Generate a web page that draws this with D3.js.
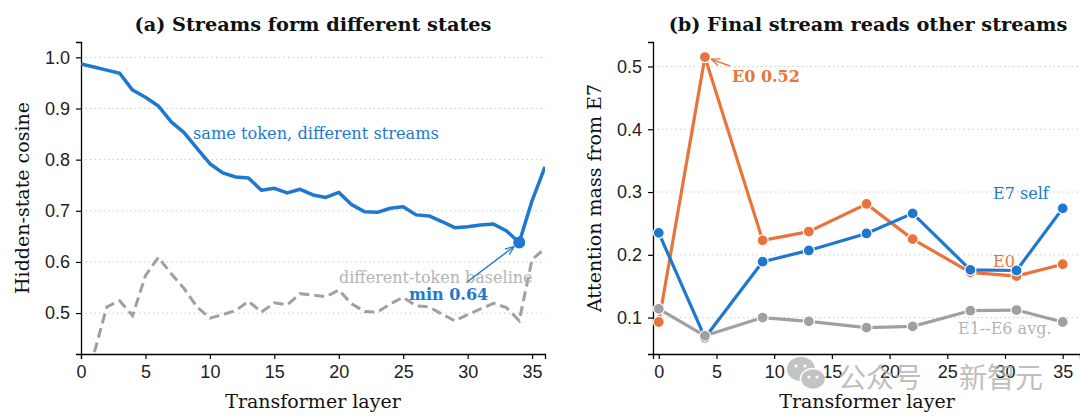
<!DOCTYPE html>
<html>
<head>
<meta charset="utf-8">
<script src="https://cdn.jsdelivr.net/npm/d3@7"></script>
<style>
  body { margin: 0; background: #fff; }
  svg { font-family: "DejaVu Serif", serif; }
  .tick text { font-size: 18px; fill: #222; }
  .grid line { stroke: #ccc; stroke-dasharray: 1.5 3; stroke-width: 1; }
</style>
</head>
<body>
<div id="chart"></div>
<script>
// panel (a): cosine per layer
const layersA = d3.range(0, 37);
const sameToken = [0.987, 0.981, 0.975, 0.969, 0.936, 0.922, 0.905, 0.874, 0.853, 0.822,
  0.792, 0.774, 0.766, 0.764, 0.740, 0.744, 0.735, 0.742, 0.731, 0.726,
  0.736, 0.712, 0.698, 0.697, 0.705, 0.708, 0.692, 0.690, 0.679, 0.667,
  0.669, 0.672, 0.674, 0.661, 0.638, 0.720, 0.786];
const diffToken = [0.22, 0.42, 0.512, 0.524, 0.495, 0.573, 0.609, 0.577, 0.548, 0.512,
  0.490, 0.497, 0.505, 0.523, 0.502, 0.520, 0.516, 0.538, 0.535, 0.532,
  0.545, 0.518, 0.503, 0.502, 0.518, 0.531, 0.514, 0.512, 0.498, 0.485,
  0.497, 0.508, 0.519, 0.511, 0.485, 0.605, 0.626];
const ticksA_x = [0, 5, 10, 15, 20, 25, 30, 35];
const ticksA_y = [0.5, 0.6, 0.7, 0.8, 0.9, 1.0];

// panel (b): attention mass from E7
const layersB = [0, 4, 9, 13, 18, 22, 27, 31, 35];
const e0 = [0.093, 0.515, 0.223, 0.237, 0.281, 0.225, 0.172, 0.166, 0.185];
const e7self = [0.235, 0.068, 0.189, 0.207, 0.234, 0.266, 0.176, 0.175, 0.274];
const e1e6 = [0.114, 0.071, 0.100, 0.094, 0.084, 0.086, 0.111, 0.112, 0.093];
const ticksB_x = [0, 5, 10, 15, 20, 25, 30, 35];
const ticksB_y = [0.1, 0.2, 0.3, 0.4, 0.5];

const blue = "#1f77d0", orange = "#e8743b", gray = "#a0a0a0";

const W = 1080, H = 420;
const svg = d3.select("#chart").append("svg")
    .attr("width", W).attr("height", H);

const defs = svg.append("defs");
function arrowMarker(id, color) {
    defs.append("marker")
        .attr("id", id)
        .attr("viewBox", "0 0 10 10")
        .attr("refX", 10).attr("refY", 5)
        .attr("markerWidth", 9).attr("markerHeight", 9)
        .attr("markerUnits", "userSpaceOnUse")
        .attr("orient", "auto")
        .append("path")
        .attr("d", "M0,1 L10,5 L0,9")
        .attr("fill", "none")
        .attr("stroke", color)
        .attr("stroke-width", 1.4);
}
arrowMarker("arrBlue", blue);
arrowMarker("arrOrange", orange);

function panel(box, xDom, yDom, xTicks, yTicks, clipId) {
    const x = d3.scaleLinear().domain(xDom).range([box.left, box.right]);
    const y = d3.scaleLinear().domain(yDom).range([box.bottom, box.top]);

    defs.append("clipPath").attr("id", clipId)
        .append("rect")
        .attr("x", box.left).attr("y", box.top)
        .attr("width", box.right - box.left)
        .attr("height", box.bottom - box.top);

    // dotted horizontal grid
    svg.append("g")
        .attr("class", "grid")
        .selectAll("line")
        .data(yTicks)
        .join("line")
        .attr("x1", box.left).attr("x2", box.right)
        .attr("y1", d => y(d)).attr("y2", d => y(d));

    svg.append("g")
        .attr("transform", `translate(0, ${box.bottom})`)
        .call(d3.axisBottom(x).tickValues(xTicks).tickSize(5).tickPadding(6).tickFormat(d3.format("d")))
        .call(g => g.select(".domain").attr("stroke-width", 1.3))
        .call(g => g.selectAll(".tick line").attr("stroke-width", 1.2));

    svg.append("g")
        .attr("transform", `translate(${box.left}, 0)`)
        .call(d3.axisLeft(y).tickValues(yTicks).tickSize(5).tickPadding(6).tickFormat(d3.format(".1f")))
        .call(g => g.select(".domain").attr("stroke-width", 1.3))
        .call(g => g.selectAll(".tick line").attr("stroke-width", 1.2));

    const layer = svg.append("g").attr("clip-path", `url(#${clipId})`);
    return {x, y, layer};
}

// ---------- panel (a)
const boxA = {left: 81, right: 545, top: 42, bottom: 354};
const A = panel(boxA, [0, 36], [0.42, 1.03], ticksA_x, ticksA_y, "clipA");

const lineA = d3.line().x((d, i) => A.x(layersA[i])).y(d => A.y(d));

A.layer.append("path")
    .datum(diffToken)
    .attr("d", lineA)
    .attr("fill", "none")
    .attr("stroke", gray)
    .attr("stroke-width", 3)
    .attr("stroke-dasharray", "10 5");

A.layer.append("path")
    .datum(sameToken)
    .attr("d", lineA)
    .attr("fill", "none")
    .attr("stroke", blue)
    .attr("stroke-width", 3.5)
    .attr("stroke-linejoin", "round");

// minimum point
const minIdx = d3.minIndex(sameToken);
svg.append("circle")
    .attr("cx", A.x(layersA[minIdx]))
    .attr("cy", A.y(sameToken[minIdx]))
    .attr("r", 6)
    .attr("fill", blue);

svg.append("text")
    .attr("x", 193).attr("y", 139)
    .attr("fill", blue)
    .style("font-size", "16.2px")
    .text("same token, different streams");

svg.append("text")
    .attr("x", 339).attr("y", 283)
    .attr("fill", "#b4b4b4")
    .style("font-size", "16px")
    .text("different-token baseline");

svg.append("line")
    .attr("x1", 467).attr("y1", 282)
    .attr("x2", A.x(layersA[minIdx]) - 5).attr("y2", A.y(sameToken[minIdx]) + 4)
    .attr("stroke", blue)
    .attr("stroke-width", 1.4)
    .attr("marker-end", "url(#arrBlue)");

svg.append("text")
    .attr("x", 409).attr("y", 300)
    .attr("fill", blue)
    .style("font-size", "16px")
    .style("font-weight", "bold")
    .text(`min ${d3.format(".2f")(sameToken[minIdx])}`);

svg.append("text")
    .attr("x", (boxA.left + boxA.right) / 2).attr("y", 31)
    .attr("text-anchor", "middle")
    .style("font-size", "19.3px")
    .style("font-weight", "bold")
    .attr("fill", "#111")
    .text("(a) Streams form different states");

svg.append("text")
    .attr("x", (boxA.left + boxA.right) / 2).attr("y", 408)
    .attr("text-anchor", "middle")
    .style("font-size", "19px")
    .attr("fill", "#111")
    .text("Transformer layer");

svg.append("text")
    .attr("transform", `translate(29, ${(boxA.top + boxA.bottom) / 2}) rotate(-90)`)
    .attr("text-anchor", "middle")
    .style("font-size", "19px")
    .attr("fill", "#111")
    .text("Hidden-state cosine");

// ---------- panel (b)
const boxB = {left: 653, right: 1080, top: 42, bottom: 354};
const B = panel(boxB, [-0.5, 36.5], [0.042, 0.539], ticksB_x, ticksB_y, "clipB");

const lineB = d3.line().x((d, i) => B.x(layersB[i])).y(d => B.y(d));

[[e0, orange], [e7self, blue], [e1e6, gray]].forEach(([vals, color]) => {
    const g = svg.append("g");
    g.append("path")
        .datum(vals)
        .attr("d", lineB)
        .attr("fill", "none")
        .attr("stroke", color)
        .attr("stroke-width", 3.2)
        .attr("stroke-linejoin", "round");
    g.selectAll("circle")
        .data(vals)
        .join("circle")
        .attr("cx", (d, i) => B.x(layersB[i]))
        .attr("cy", d => B.y(d))
        .attr("r", 5.5)
        .attr("fill", color)
        .attr("stroke", "#fff")
        .attr("stroke-width", 1.2);
});

const maxIdx = d3.maxIndex(e0);
svg.append("line")
    .attr("x1", 730).attr("y1", 66)
    .attr("x2", B.x(layersB[maxIdx]) + 6).attr("y2", B.y(e0[maxIdx]) + 2)
    .attr("stroke", orange)
    .attr("stroke-width", 1.4)
    .attr("marker-end", "url(#arrOrange)");

svg.append("text")
    .attr("x", 732).attr("y", 82)
    .attr("fill", orange)
    .style("font-size", "16px")
    .style("font-weight", "bold")
    .text(`E0 ${d3.format(".2f")(e0[maxIdx])}`);

svg.append("text")
    .attr("x", 993).attr("y", 199)
    .attr("fill", blue)
    .style("font-size", "16px")
    .text("E7 self");

svg.append("text")
    .attr("x", 993).attr("y", 267)
    .attr("fill", orange)
    .style("font-size", "16px")
    .text("E0");

svg.append("text")
    .attr("x", 958).attr("y", 334)
    .attr("fill", "#b4b4b4")
    .style("font-size", "16px")
    .text("E1--E6 avg.");

svg.append("text")
    .attr("x", 868).attr("y", 31)
    .attr("text-anchor", "middle")
    .style("font-size", "19.3px")
    .style("font-weight", "bold")
    .attr("fill", "#111")
    .text("(b) Final stream reads other streams");

svg.append("text")
    .attr("x", 867).attr("y", 408)
    .attr("text-anchor", "middle")
    .style("font-size", "19px")
    .attr("fill", "#111")
    .text("Transformer layer");

svg.append("text")
    .attr("transform", `translate(601, ${(boxB.top + boxB.bottom) / 2}) rotate(-90)`)
    .attr("text-anchor", "middle")
    .style("font-size", "19px")
    .attr("fill", "#111")
    .text("Attention mass from E7");

// watermark (WeChat icon + account name)
const wm = svg.append("g").attr("opacity", 0.8);
wm.append("ellipse").attr("cx", 801).attr("cy", 369).attr("rx", 14).attr("ry", 12).attr("fill", "#b5b5b5");
wm.append("ellipse").attr("cx", 813).attr("cy", 379).attr("rx", 12.5).attr("ry", 10.5).attr("fill", "#b5b5b5")
    .attr("stroke", "#fff").attr("stroke-width", 1.5);
wm.selectAll("circle.eye")
    .data([[796, 366], [805, 366], [809, 377], [817, 377]])
    .join("circle")
    .attr("cx", d => d[0]).attr("cy", d => d[1]).attr("r", 1.6)
    .attr("fill", "#fff");
wm.append("text")
    .attr("x", 838).attr("y", 388)
    .attr("fill", "#b0b0b0")
    .style("font-family", "'Noto Sans CJK SC', sans-serif")
    .style("font-size", "28px")
    .text("公众号");
wm.append("text")
    .attr("x", 959).attr("y", 388)
    .attr("fill", "#b0b0b0")
    .style("font-family", "'Noto Sans CJK SC', sans-serif")
    .style("font-size", "28px")
    .text("新智元");
</script>
</body>
</html>
